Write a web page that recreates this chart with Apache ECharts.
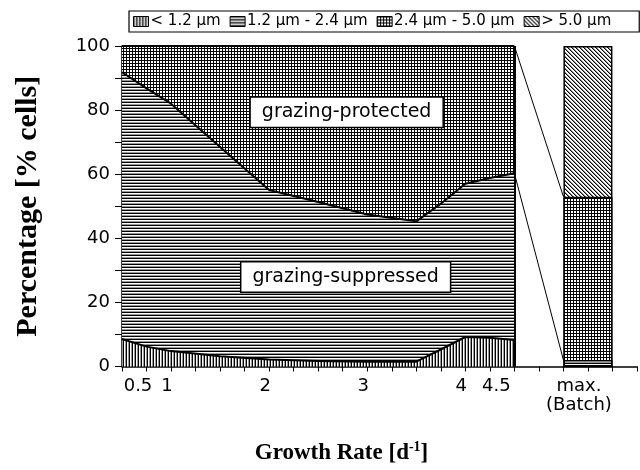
<!DOCTYPE html>
<html>
<head>
<meta charset="utf-8">
<script src="https://cdn.jsdelivr.net/npm/echarts@6/dist/echarts.min.js"></script>
<style>html,body{margin:0;padding:0;background:#fff;}#c{width:640px;height:470px;}</style>
</head>
<body>
<div id="c"></div>
<script>
// ---- data ----
const seriesNames = ['< 1.2 µm', '1.2 µm - 2.4 µm', '2.4 µm - 5.0 µm', '> 5.0 µm'];
const growthRates = [0.5, 0.75, 1, 1.5, 2, 2.5, 3, 3.5, 3.75, 4, 4.25, 4.5];
const lt12   = [8.6, 6.2, 4.8, 3.2, 2.2, 1.7, 1.5, 1.5, 5.3, 9.2, 9.0, 8.3];
const r12_24 = [83.2, 80.6, 77.2, 65.3, 52.9, 49.6, 45.9, 43.8, 45.5, 47.8, 49.8, 52.0];
const r24_50 = [8.2, 13.2, 18.0, 31.5, 44.9, 48.7, 52.6, 54.7, 49.2, 43.0, 41.2, 39.7];
const batchX = 5.25;
const batchValues = [0, 2, 51, 47];
const tickLabels = {'0.5': '0.5', '1': '1', '2': '2', '3': '3', '4': '4', '4.5': '4.5', '5.25': 'max.\n(Batch)'};

// ---- patterns ----
function pat(w, h, draw) {
  const c = document.createElement('canvas');
  c.width = w; c.height = h;
  const g = c.getContext('2d');
  g.fillStyle = '#fff'; g.fillRect(0, 0, w, h);
  draw(g);
  return { image: c, repeat: 'repeat' };
}
const patV = pat(3, 3, g => { g.fillStyle = '#000'; g.fillRect(0, 0, 1, 3); g.fillStyle = '#999'; g.fillRect(2, 0, 1, 3); });
const patH = pat(3, 3, g => { g.fillStyle = '#000'; g.fillRect(0, 0, 3, 1); g.fillStyle = '#999'; g.fillRect(0, 2, 3, 1); });
const patG = pat(3, 3, g => { g.fillStyle = '#000'; g.fillRect(0, 0, 3, 1); g.fillRect(0, 0, 1, 3); });
const patD = pat(4, 4, g => { for (let i = 0; i < 4; i++) { g.fillStyle = '#000'; g.fillRect(i, i, 1, 1); g.fillStyle = '#888'; g.fillRect((i + 1) % 4, i, 1, 1); } });
const patterns = [patV, patH, patG, patD];

// cumulative sums (stacking done here, drawn as overlapping opaque fills)
const areaVals = [lt12, r12_24, r24_50];
const cumArea = areaVals.map((_, i) => growthRates.map((_, k) => {
  let s = 0; for (let j = 0; j <= i; j++) s += areaVals[j][k]; return +s.toFixed(2);
}));
const cumBatch = batchValues.map((_, i) => batchValues.slice(0, i + 1).reduce((a, b) => a + b, 0));

const n = growthRates.length - 1;
const batchHalf = 0.25;

const series = [];
// batch bar: draw from the largest cumulative down, so the lower segments cover the upper ones
for (let i = batchValues.length - 1; i >= 0; i--) {
  series.push({
    name: seriesNames[i], type: 'bar', barWidth: 49, barGap: '-100%',
    data: [[batchX, cumBatch[i]]],
    itemStyle: { color: patterns[i], borderColor: '#000', borderWidth: 1.5 },
    silent: true, z: 2 + (batchValues.length - i) * 0.01
  });
}
// areas: largest cumulative first
for (let i = areaVals.length - 1; i >= 0; i--) {
  const s = {
    name: seriesNames[i], type: 'line', symbol: 'none',
    data: growthRates.map((x, k) => [x, cumArea[i][k]]),
    lineStyle: { color: '#000', width: 2 },
    areaStyle: { color: patterns[i], opacity: 1, origin: 'start' },
    silent: true, z: 3
  };
  if (i === 2) {
    s.markLine = {
      silent: true, symbol: 'none', label: { show: false },
      lineStyle: { color: '#000', width: 2, type: 'solid' },
      data: [{ xAxis: growthRates[n] }]
    };
  }
  if (i === 0) {
    s.markPoint = {
      symbol: 'rect', symbolSize: 1, itemStyle: { color: 'rgba(0,0,0,0)' },
      label: {
        show: true, position: 'inside', formatter: '{b}',
        fontFamily: 'DejaVu Sans', fontSize: 19, color: '#000',
        backgroundColor: '#fff', borderColor: '#000', borderWidth: 1.5,
        padding: [5, 11, 5, 11]
      },
      data: [
        { name: 'grazing-protected', coord: [2.79, 79.3] },
        { name: 'grazing-suppressed', coord: [2.78, 27.9] }
      ]
    };
  }
  series.push(s);
}
// connector lines from the 4.5 column to the batch bar
series.push({
  name: 'conn1', type: 'line', symbol: 'none', silent: true, z: 5,
  data: [[growthRates[n], cumArea[2][n]], [batchX - batchHalf, cumBatch[2]]],
  lineStyle: { color: '#000', width: 1 }
});
series.push({
  name: 'conn2', type: 'line', symbol: 'none', silent: true, z: 5,
  data: [[growthRates[n], cumArea[1][n]], [batchX - batchHalf, cumBatch[1]]],
  lineStyle: { color: '#000', width: 1 }
});

const labelFont = { fontFamily: 'DejaVu Sans', fontSize: 18, color: '#000' };

const chart = echarts.init(document.getElementById('c'), null, { renderer: 'canvas' });
chart.setOption({
  animation: false,
  backgroundColor: '#fff',
  legend: {
    data: seriesNames.map(nm => ({ name: nm, icon: 'rect' })),
    left: 129, top: 11, width: 500, orient: 'horizontal',
    itemWidth: 15, itemHeight: 10, itemGap: 9,
    padding: [3, 28, 3, 4],
    borderColor: '#000', borderWidth: 1.2,
    selectedMode: false,
    itemStyle: { borderColor: '#000', borderWidth: 1 },
    textStyle: { fontFamily: 'DejaVu Sans', fontSize: 15, color: '#000', padding: [0, 0, 0, -3] }
  },
  grid: { left: 122, right: 0, top: 46, bottom: 103, containLabel: false },
  xAxis: {
    type: 'value', min: 0.5, max: 5.75, interval: 0.25,
    name: '{t|Growth Rate [d}{s|-1}{t|]}',
    nameLocation: 'middle', nameGap: 74,
    nameTextStyle: {
      padding: [0, 76, 0, 0],
      rich: {
        t: { fontFamily: 'Liberation Serif', fontWeight: 'bold', fontSize: 23, color: '#000', lineHeight: 26 },
        s: { fontFamily: 'Liberation Serif', fontWeight: 'bold', fontSize: 14, color: '#000', verticalAlign: 'top', lineHeight: 26, padding: [0, 0, 8, 0] }
      }
    },
    axisLine: { lineStyle: { color: '#000', width: 1.5 } },
    axisTick: { show: true, length: 5, lineStyle: { color: '#000', width: 1 } },
    splitLine: { show: false },
    axisLabel: {
      margin: 10, ...labelFont, lineHeight: 19,
      formatter: v => {
        const t = tickLabels[String(v)];
        if (!t) return '';
        if (String(v) === '0.5') return '{l|' + t + '}';
        if (String(v) === '4.5') return '{r|' + t + '}';
        if (String(v) === '5.25') return t.split('\n').map(p => '{m|' + p + '}').join('\n');
        return '{c|' + t + '}';
      },
      rich: {
        l: { ...labelFont, padding: [0, 0, 0, 32] },
        r: { ...labelFont, padding: [0, 36, 0, 0] },
        m: { ...labelFont, lineHeight: 19, padding: [0, 18, 0, 0] },
        c: { ...labelFont, padding: [0, 8, 0, 0] }
      }
    }
  },
  yAxis: {
    type: 'value', min: 0, max: 100, interval: 20,
    name: 'Percentage [% cells]', nameLocation: 'middle', nameGap: 79,
    nameTextStyle: { fontFamily: 'Liberation Serif', fontWeight: 'bold', fontSize: 30, color: '#000' },
    axisLine: { show: true, lineStyle: { color: '#000', width: 1.5 } },
    axisTick: { show: true, length: 7, lineStyle: { color: '#000', width: 1 } },
    minorTick: { show: true, splitNumber: 2, length: 7, lineStyle: { color: '#000', width: 1 } },
    splitLine: { show: false },
    axisLabel: { margin: 12, ...labelFont }
  },
  series: series
});
</script>
</body>
</html>
